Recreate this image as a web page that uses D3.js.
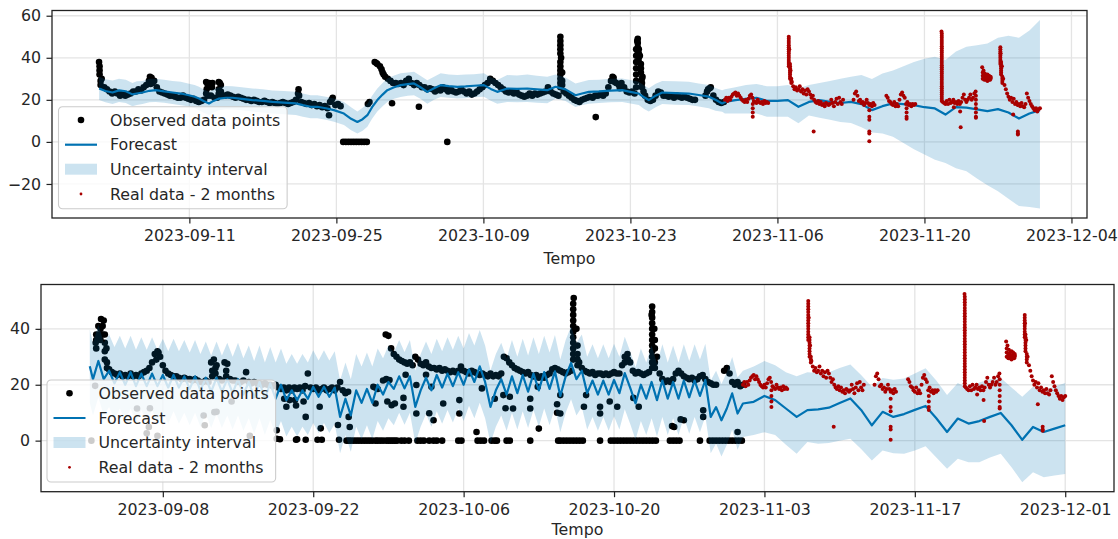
<!DOCTYPE html>
<html><head><meta charset="utf-8">
<script src="https://cdn.jsdelivr.net/npm/d3@7/dist/d3.min.js"></script>
<style>html,body{margin:0;padding:0;background:#fff;}svg{display:block;}</style>
</head><body>
<svg id="chart" width="1118" height="539"></svg>
<script>
// ================= DATA (days since 2023-09-01 00:00 UTC) =================
const topTickLabels = ["2023-09-11","2023-09-25","2023-10-09","2023-10-23","2023-11-06","2023-11-20","2023-12-04"];
const bottomTickLabels = ["2023-09-08","2023-09-22","2023-10-06","2023-10-20","2023-11-03","2023-11-17","2023-12-01"];
const topYTicks = [-20, 0, 20, 40, 60];
const bottomYTicks = [0, 20, 40];
const legendLabels = ["Observed data points", "Forecast", "Uncertainty interval", "Real data - 2 months"];
const axisTitle = "Tempo";

// top panel observed (regular sampling)
const topObsStart = 1.4, topObsStep = 0.25;
const topObsValues = [38,30,26,25,24,23,24,23,
22,23,22,22.5,23,24,24,25,
24.5,26,27,29,30.5,29,26,24,
23.5,23,22.5,22,22,21.5,21,21,
22,21,20.5,20,20.5,19.5,19,19.5,
20,25,28,26,21,21,28,22,
22,22.5,22,21.5,21,21.5,21,20.5,
20,20,19.5,20,19.5,19,19,19.5,
19,18.5,19,18.5,18,18.5,19,18.5,
18,18.5,19,20,25,19,18.5,18,
18.5,17.5,18,17,17.5,16.5,17,16,
19,21,17.5,18,17,0,0,0,
0,0,0,0,0,0,0,19,
null,38,37,36,33,31,30,29,
28,28,27.5,28,27,29,30,28,
27,28,27,26,26,25,25.5,25,
24,25,24.5,26,25,24,25,24,
23.5,24,25,24,23,24,22.5,23,
24,25,26,27,28,30,29,28,
27,26,25,24,23.5,24,23,24,
22.5,22,21.5,22,23,22,23,22.5,
23,23.5,24,26,24,23,22.5,22,
40,24,23,22,21,20,19.5,19,
20,20.5,21,21.5,21,22,22,22.5,
22,23,26,29,30.5,28,27,28,
26,24,23.5,24,23,48,41,31,
22,20,19.5,20,22,24,23.5,22,
22,21.5,22,21,22,21.5,21,21.5,
21,20.5,20,20,null,null,null,22,
25,26,22,20,19,18.5,19];
// extra observations: [day, value, value, ...]
const topObsExtra = [[1.45,36,34,32],[1.55,29,27],[6.25,31],[6.5,28],[6.3,27.5],[11.6,28.5,23],[11.75,27,22],[12.05,27.5,22],[12.2,28],[12.8,28.5,25,23],[13.0,27,24],[20.35,23],[20.45,22],[23.3,12.7],[23.55,20],[27.0,18],[27.8,37.5],[28.3,34.5],[28.5,32],[29.3,18.4],[31.86,16.7],[34.56,0],[45.33,50,48,46,44,42,38,36,34,32,30,28,26],[45.5,33,29,27],[48.7,11.8],[50.3,31],[50.5,28.5],[51.0,25.5],[52.55,26,29,32,35,38,41,44],[52.7,49,47,45,43],[52.8,44,42,40,38],[53.0,37,35,33],[53.1,30,28,26],[53.25,24],[59.3,24],[59.55,25.5]];

// bottom panel observed (regular sampling)
const bottomObsStart = 0.75, bottomObsStep = 0.25;
const bottomObsValues = [35,41,43.5,43,33,25.5,24.5,24,
23.5,24,23,23.5,23,24,23,23.5,
23,24,24.5,25,26,28,31,32,
30,27,25,24,23.5,23,23,22.5,
22,22.5,22,22,21.5,22,21.5,21,
21,21.5,21,28,29,27,22,21.5,
28,27.5,22,21.5,21.5,21,21,21.5,
24.5,21,20.5,21,20.5,20.5,20,20.5,
20,20,19.5,20,19,18.5,19,18,
19,18,19,18.5,19,18,19.5,24,
19,18.5,19,18,18.5,19,18,18.5,
19,18,19,21,18,17,17.5,0,
0,0,0,0,0,0,0,0,
19,18.5,0,0,38,37.5,33,31,
30,29,28.5,28,27.5,28,27,30,
29,27.5,27,28,26.5,26,26,25.5,
26,25,25.5,25,24.5,25,24.5,25,
26.5,25,24.5,24,25,24.5,24,23.5,
24,23.5,23,24,23,23.5,23,24,
30,29.5,28,27,26,25.5,25,24.5,
24,24.5,23.5,23,23.5,22.5,23,22.5,
23.5,24,25.5,26,25.5,25,24.5,24,
24.5,25,51,40,28,26,25,24.5,
24,24.5,23.5,24,24,23.5,24,23.5,
24,24.5,24,24,27,30,31,28,
25,24,24.5,24,23.5,24,24.5,45,
40,30,24,22,21,21.5,21,22,
24,25,24,23,22.5,22,22.5,21.5,
22,23,23.5,22,21,20.5,20,20,
null,null,25,26,24,21,20,21,
19.5,20];
const bottomObsExtra = [[0.8,33,36,38],[1.0,36,38],[1.2,40,38,36],[1.4,41,38],[1.6,38,35,32,29],[1.8,28,26],[6.4,29],[6.6,31.5],[11.6,25,23],[11.9,26,24],[12.9,25,23],
[0.35,0],[0.7,19.6],[4.6,11.5],[5.5,2.6],[5.7,4.9],[5.8,11.6],[6.5,1.7],[10.8,9],[10.9,5.5],[11.8,10.2],[12.0,10.3],[13.4,14],[15.1,1.7],[17.6,3.7,0.7],[17.9,0.5],[18.3,15],[18.5,12.1],[18.8,14.5],[19.3,14.5],[19.4,12.6,0.3],[19.5,0.5],[20.1,14],[20.3,8.5,0.3],[21.4,0.3],[21.6,12.1],[21.7,4.4],[21.8,0.3],[23.3,5.6],[23.4,0.3],[24.1,0],[24.3,8.5,0],[24.4,4.9],
[26.6,19.3],[26.8,13.3,0],[27.0,0],[27.5,21.5],[27.8,22,0],[27.9,14],[28.0,0],[28.1,21.7],[28.2,0],[28.3,12.7],[28.4,0],[28.6,13.3,0],[28.8,0],
[29.2,0],[29.4,15.3,12.1],[29.5,0],[29.6,23.6],[29.9,0],[30.6,9.7,19.9],[30.7,0],[31.0,0],[31.3,0],[31.5,23.6],[31.8,9.8,0],[32.0,19.3],[32.2,7.3,0],[32.5,0],[33.0,0],[33.1,13.3],[34.5,0],[34.6,14.5,9.7],[34.8,0],[36.2,3.1],[36.3,0],[36.6,0],[36.7,18.7],[36.9,0],[37.6,0],[37.9,15,0],[38.1,0],[38.7,16.3],[38.9,11.6],[39.0,0],[39.3,15.7,0],[39.6,11.5],[41.2,15,11.5,0],[41.9,19.3],[42.0,4.3],[43.7,13,10],[43.8,0],
[44.0,16.3,9.7,0],[44.3,0],[44.6,0],[44.9,0],[45.2,49,47,45,43,41,39,37,35,33,31,29,0],[45.5,0],[45.6,34,31,29,27],[45.8,0],[46.1,0],[46.2,12.1],[46.4,16.3],[47.7,12.1,9.7,0],[48.6,14],[48.7,0],[49.0,0],[49.3,12.1,0],[49.6,0],[49.9,0],[50.0,28],[50.2,0],[50.3,29],[50.5,0],[50.8,15.3,0],[51.1,0],[51.3,12.1],[51.4,0],[51.7,0],[52.0,0],[52.3,0],[52.55,48,46,44,42,40,38,36,34,32,30,28,26],[52.6,0],[52.8,36,33,28,26],[52.9,0],
[54.2,0],[54.4,5.2],[54.5,0],[54.6,4.9],[54.8,0],[55.1,0],[55.2,7.6],[55.5,7.3],[57.0,0],[57.3,10.9,8.5],[57.9,0],[58.2,0],[58.5,0],[58.8,0],[59.1,0],[59.4,0],[59.7,0],[60.0,0],[60.3,0],[60.5,3.1],[60.6,0],[60.9,0]];

// real data (shared by both panels)
const realStart = 61, realStep = 0.125;
const realValues = [20,21,19.5,21,20,21.5,22.5,23,
23.5,22,23,22,21,20,19.5,19,
20,19,20.5,22,22.5,21,19.5,19,
18.5,20,19,18.5,19,18,19.5,18.5,
19,18.5,null,null,null,null,null,null,
null,null,null,null,null,null,null,null,
null,44,34,28.5,26.5,25,26,24.5,
25,26.5,24,25,23,24.5,22.5,25,
24,22.5,21,22,20,19,18.5,19.5,
18,19,17.5,18,17,18.5,18,17.5,
18,20,18.5,17,19,20.5,18,21,
19,18,20,null,null,null,null,null,
null,null,20,23,24,22,19.5,20,
18.5,19,17.5,18.5,20,18.5,17.5,18,
17,18.5,17.5,null,null,null,null,null,
null,null,null,22,21,19.5,19,18,
17.5,19,17,18,17,20,22.5,23.5,
22,21,18,19,17.5,18,17,18,
17.5,18,null,null,null,null,null,null,
null,null,null,null,null,null,null,null,
null,null,null,null,null,52.5,19,18.5,
18,19.5,18,20,18.5,19,20,18.5,
19,18,19.5,18,19,21,22.5,20,
19,20,21,22.5,20,21,23,24,
null,null,null,null,35.5,34,32.5,31.5,
30.5,30,29.5,null,null,null,null,null,
null,null,42,36,30,27,25,23,
21.5,20,21,19,20.5,18,19,17.5,
18,17,18.5,17,16.5,18,23,21,
19.5,18,17,16,15,16,14.5,15.5,
16];
const realExtra = [[63.65,18,16,14,12],[67.08,50,49,48,47,46,45,44,43,42,41,40,39,38,37,36],[67.2,37,36,35,34,33,32,31,30],[67.32,30,29,28],[69.45,5],[74.75,15,12,10.5,5,4,0.3],[78.3,16,14,12,11],[81.65,51.5,50.5,49.5,48.5,47.5,46.5,45.5,44.5,43.5,42.5,41.5,40.5,39.5,38.5,37.5,36.5,35.5,34.5,33.5,32.5,31.5,30.5,29.5,28.5,27.5,26.5,25.5,24.5,23.5,22.5,21.5,20.5,19.5],[82.8,16.5],[83.4,14.5],[83.45,7],[84.9,22,20,18,16,14,12,11.5],[85.55,33,31.5,30],[85.7,31,30,29.5],[85.85,30,29.5],[86.0,32,29],[86.15,31.5,29.5],[86.3,31,30.5,30],[87.23,45,44,43,42,41,40,39,38,37],[87.3,38,37,36,35,34,33,32],[87.42,31,30,29,28],[88.45,13],[88.9,5,4,3.5]];

// forecasts: [day, yhat, lower, upper]
const topForecast = [[1.41,25.4,19.9,31.0],[2.0,24.2,18.8,29.8],[2.68,23.5,18.0,29.2],[3.3,24.5,19.0,30.0],[3.95,24.1,18.5,29.5],[4.58,22.6,17.0,28.0],[5.0,23.0,17.6,28.8],[5.54,23.5,18.0,29.0],[6.2,24.3,18.8,30.0],[6.8,24.6,19.0,30.0],[7.6,24.0,18.6,29.5],[8.39,23.5,18.0,29.0],[9.2,23.0,17.4,28.6],[9.97,22.2,16.8,27.6],[10.5,21.5,16.0,27.0],[10.92,20.6,15.0,26.2],[11.4,19.3,13.8,24.8],[11.87,18.3,12.8,23.8],[12.3,19.5,14.0,25.0],[12.83,20.6,15.0,26.0],[13.5,21.0,15.5,26.6],[14.1,21.0,15.4,26.5],[15.0,20.5,15.0,26.0],[16.0,19.9,14.4,25.4],[17.0,19.5,14.0,25.0],[17.91,19.0,13.5,24.5],[19.0,18.7,13.2,24.2],[20.13,18.3,12.8,23.8],[20.8,17.5,12.0,23.0],[21.55,16.7,11.2,22.2],[22.19,16.7,11.2,22.2],[23.0,16.0,10.5,21.5],[23.77,15.1,9.6,20.6],[24.72,13.5,8.0,19.0],[25.4,11.0,5.5,16.5],[26.0,9.5,4.0,14.5],[26.5,10.8,5.3,16.2],[26.95,12.7,7.2,18.2],[27.4,16.5,11.0,22.0],[27.9,19.9,14.4,25.4],[28.4,22.5,17.0,28.0],[28.85,24.6,19.0,30.2],[29.5,26.0,20.5,31.6],[30.12,27.0,21.4,32.6],[30.8,27.5,22.0,33.0],[31.39,27.8,22.2,33.4],[32.0,26.0,20.5,31.5],[32.66,23.8,18.2,29.3],[33.3,25.5,20.0,31.0],[33.93,27.0,21.4,32.6],[34.7,26.5,21.0,32.0],[35.52,26.2,20.6,31.8],[36.3,26.4,20.8,32.0],[37.1,26.7,21.2,32.2],[38.05,27.0,21.5,32.6],[38.7,25.2,19.6,30.8],[39.32,23.8,18.2,29.4],[40.27,25.4,19.0,31.8],[41.2,25.2,18.8,31.6],[42.18,25.4,19.0,32.0],[43.1,25.0,18.6,31.5],[44.08,24.6,18.4,31.0],[44.87,26.2,20.5,32.0],[45.82,25.0,19.4,30.6],[46.77,22.2,16.6,27.8],[47.4,23.0,17.5,28.6],[48.04,23.8,18.2,29.4],[49.0,24.0,18.5,29.6],[50.1,24.4,18.9,30.0],[51.22,24.6,19.0,30.2],[52.0,23.8,18.3,29.4],[52.8,23.0,17.5,28.6],[53.3,21.2,15.6,26.8],[53.75,19.9,14.4,25.5],[54.4,22.0,16.5,27.6],[55.03,23.5,18.0,29.0],[56.3,23.2,17.7,28.8],[57.56,23.0,17.5,28.6],[58.5,22.3,16.8,27.8],[59.46,21.5,16.0,27.0],[60.1,20.0,14.8,25.6],[60.74,18.3,14.3,24.6],
[61,19,13.5,25],[62,19.9,13.5,26],[63,20.5,13.5,27],[64,21,13.5,27.5],[65,19.5,12,26.5],[66,19.5,12,26.5],[67,19.9,12,27],[68,16.7,8.9,25.5],[69,19,12.5,27],[70,19.9,11.5,28],[71,19,10.5,29],[72,18.5,9.5,30],[73,19,9,31],[74,18,7,31.8],[75,15.1,4.5,29.9],[76,17,4,32.5],[77,18.3,2.5,34],[78,18,-0.5,36],[79,17.5,-3.5,38],[80,16.5,-6,39.5],[81,15.9,-8.5,40.5],[82,13,-10,39],[83,16.5,-12.5,43],[84,16.3,-14,45.2],[85,15.5,-17.4,46],[86,14.6,-20.6,46.8],[87,15.6,-23.5,49.5],[88,14,-27,50.5],[89,11.1,-30.5,49.5],[90,13.5,-31,53],[91,15.1,-31.7,58]];

const bottomForecast = [[0.2,26.6,13.6,39.8],[0.5,22,9,35],[1,28.5,15.5,41.5],[1.5,22,9,35],[2,25,12,38],[2.5,20.5,7.5,33.5],[3,24.5,11.5,37.5],[3.5,20,7,33],[4,24.5,11.5,37.5],[4.5,19.5,6.5,32.5],[5,24,11,37],[5.5,19.5,6.5,32.5],[6,24,11,37],[6.5,19.5,6.5,32.5],[7,23.5,10.5,36.5],[7.5,19,6,32],[8,23.5,10.5,36.5],[8.5,19,6,32],[9,23,10,36],[9.5,18.5,5.5,31.5],[10,23,10,36],[10.5,18,5,31],[11,22.5,9.5,35.5],[11.5,17.5,4.5,30.5],[12,22.5,9.5,35.5],[12.5,17.5,4.5,30.5],[13,22,9,35],[13.5,17,4,30],[14,22,9,35],[14.5,16.5,3.5,29.5],[15,21,8,34],[15.5,15.5,2.5,28.5],[16,21,8,34],[16.5,15,2,28],[17,20.5,7.5,33.5],[17.5,15,2,28],[18,20,7,33],[18.5,14.5,1.5,27.5],[19,18,5,31],[19.5,14.5,1.5,27.5],[20,18,5,31],[20.5,15,2,28],[21,19.3,6.3,32.3],[21.5,15.7,2.7,28.7],[22,19.3,6.3,32.3],[22.5,15.7,2.7,28.7],[23,19,6,32],[23.5,8.5,-4.5,21.5],[24,15,2,28],[24.5,9,-4,22],[25,18,5,31],[25.5,13.5,0.5,26.5],[26,18.5,5.5,31.5],[26.5,13.5,0.5,26.5],[27,20,7,33],[27.5,16.5,3.5,29.5],[28,21,8,34],[28.5,18.5,5.5,31.5],[29,23,10,36],[29.5,18.7,5.7,31.7],[30,23,10,36],[30.5,12.1,-0.9,25.1],[31,18,5,31],[31.5,22.5,9.5,35.5],[32,18,5,31],[32.5,23.5,10.5,36.5],[33,19,6,32],[33.5,24,11,37],[34,19.5,6.5,32.5],[34.5,24.5,11.5,37.5],[35,20,7,33],[35.5,25.5,12.5,38.5],[36,21,8,34],[36.5,26.6,13.6,39.6],[37,21,8,34],[37.5,12.1,-0.9,25.1],[38,18,5,31],[38.5,22,9,35],[39,16.5,3.5,29.5],[39.5,23,10,36],[40,17,4,30],[40.5,23.5,10.5,36.5],[41,17.5,4.5,30.5],[41.5,24,11,37],[42,18,5,31],[42.5,24.5,11.5,37.5],[43,18.5,5.5,31.5],[43.5,24.8,11.8,37.8],[44,16,3,29],[44.5,23,10,36],[45,27.8,14.8,40.8],[45.5,22,9,35],[46,25,12,38],[46.5,17,4,30],[47,21.5,8.5,34.5],[47.5,16.5,3.5,29.5],[48,21.5,8.5,34.5],[48.5,16.5,3.5,29.5],[49,21.7,8.7,34.7],[49.5,17,4,30],[50,24.2,11.2,37.2],[50.5,19,6,32],[51,13.3,0.3,26.3],[51.5,20,7,33],[52,15,2,28],[52.5,21,8,34],[53,14.5,1.5,27.5],[53.5,21.5,8.5,34.5],[54,15,2,28],[54.5,21,8,34],[55,15,2,28],[55.5,21.5,8.5,34.5],[56,15.5,2.5,28.5],[56.5,21.5,8.5,34.5],[57,16,3,29],[57.5,21.7,8.7,34.7],[58,8.5,-4.5,21.5],[58.5,12,-1,25],[59,7.3,-5.7,20.3],[59.5,11.5,-1.5,24.5],[60,16.9,3.9,29.9],[60.5,9.7,-3.3,22.7],
[61,13.3,1.3,25],[62,13.9,2,26.5],[63,16,3,28.5],[64,14.5,2,27],[65,11.5,-1.5,24.5],[66,8.5,-4.7,23],[67,10.9,-0.5,24.5],[68,11.2,-1.1,24.2],[69,11.8,-0.8,24.5],[70,13.5,0,26],[71,15.1,0.7,27.2],[72,11,-3,23.5],[73,5.5,-7.1,19.3],[74,10.3,-3.5,22.4],[75,8.5,-4.5,21.8],[76,9.5,-4.7,22.2],[77,11,-3.5,24],[78,12.4,-2,25.9],[79,8,-6,21.5],[80,3.1,-10.1,16.3],[81,7.9,-6.5,20.6],[82,6.1,-7.7,18.7],[83,7,-7.7,20.8],[84,8.5,-6,22],[85,9.9,-4.7,22.4],[86,5.5,-9.5,19],[87,0.3,-14.9,15.7],[88,4.9,-11.3,19.3],[89,3.1,-13.1,18.1],[90,4.3,-12.5,19.4],[91,5.5,-11.9,20.6]];

// ================= RENDERING =================
const DAY = 864e5, T0 = Date.UTC(2023, 8, 1);
const toDate = d => new Date(T0 + d * DAY);
function runPoints(start, step, values) {
  const out = [];
  values.forEach((v, i) => { if (v !== null) out.push([start + i * step, v]); });
  return out;
}
function extraPoints(rows) {
  const out = [];
  rows.forEach(r => { for (let k = 1; k < r.length; k++) out.push([r[0], r[k]]); });
  return out;
}
const realPts = runPoints(realStart, realStep, realValues).concat(extraPoints(realExtra));

const panels = [
  { obs: runPoints(topObsStart, topObsStep, topObsValues).concat(extraPoints(topObsExtra)),
    fc: topForecast, xt: topTickLabels, yt: topYTicks },
  { obs: runPoints(bottomObsStart, bottomObsStep, bottomObsValues).concat(extraPoints(bottomObsExtra)),
    fc: bottomForecast, xt: bottomTickLabels, yt: bottomYTicks }
];
const layouts = [
  { x0: 52, x1: 1087, y0: 10.5, y1: 218, lx: 58.5, ly: 106.7, titleY: 263.5 },
  { x0: 41, x1: 1114, y0: 284.5, y1: 491.7, lx: 47, ly: 380, titleY: 534.5 }
];

const FONT = "'DejaVu Sans', Verdana, sans-serif";
const FS = 15.8;
const TXT = "#262626";
const BLUE = "#0072B2";
const RED = "#a80000";
const parse = d3.utcParse("%Y-%m-%d");
const fmtY = v => v < 0 ? "\u2212" + Math.abs(v) : String(v);
const svg = d3.select("#chart");

panels.forEach((p, idx) => {
  const L = layouts[idx];
  const xs = p.obs.map(d => d[0]).concat(p.fc.map(d => d[0]), realPts.map(d => d[0]));
  const ys = p.obs.map(d => d[1]).concat(p.fc.flatMap(d => [d[1], d[2], d[3]]), realPts.map(d => d[1]));
  const [xmin, xmax] = d3.extent(xs), [ymin, ymax] = d3.extent(ys);
  const padX = (xmax - xmin) * 0.05, padY = (ymax - ymin) * 0.05;
  const x = d3.scaleUtc().domain([toDate(xmin - padX), toDate(xmax + padX)]).range([L.x0, L.x1]);
  const y = d3.scaleLinear().domain([ymin - padY, ymax + padY]).range([L.y1, L.y0]);
  const X = d => x(toDate(d[0]));

  const g = svg.append("g");
  const clipId = "clip" + idx;
  svg.append("clipPath").attr("id", clipId).append("rect")
    .attr("x", L.x0).attr("y", L.y0).attr("width", L.x1 - L.x0).attr("height", L.y1 - L.y0);

  const xTickDates = p.xt.map(parse);
  // grid
  g.append("g").selectAll("line").data(xTickDates).join("line")
    .attr("x1", d => x(d)).attr("x2", d => x(d)).attr("y1", L.y0).attr("y2", L.y1)
    .attr("stroke", "#e4e4e4").attr("stroke-width", 1.3);
  g.append("g").selectAll("line").data(p.yt).join("line")
    .attr("x1", L.x0).attr("x2", L.x1).attr("y1", d => y(d)).attr("y2", d => y(d))
    .attr("stroke", "#e4e4e4").attr("stroke-width", 1.3);

  const plot = g.append("g").attr("clip-path", `url(#${clipId})`);
  // observed
  plot.append("g").selectAll("circle").data(p.obs).join("circle")
    .attr("cx", X).attr("cy", d => y(d[1])).attr("r", 3.3).attr("fill", "#000");
  // forecast line
  plot.append("path").datum(p.fc)
    .attr("d", d3.line().x(X).y(d => y(d[1])))
    .attr("fill", "none").attr("stroke", BLUE).attr("stroke-width", 2.2).attr("stroke-linejoin", "round");
  // uncertainty band
  plot.append("path").datum(p.fc)
    .attr("d", d3.area().x(X).y0(d => y(d[2])).y1(d => y(d[3])))
    .attr("fill", BLUE).attr("fill-opacity", 0.2);
  // real data
  plot.append("g").selectAll("circle").data(realPts).join("circle")
    .attr("cx", X).attr("cy", d => y(d[1])).attr("r", 2).attr("fill", RED);

  // frame
  g.append("rect").attr("x", L.x0).attr("y", L.y0).attr("width", L.x1 - L.x0).attr("height", L.y1 - L.y0)
    .attr("fill", "none").attr("stroke", "#222").attr("stroke-width", 1.3);

  // axes
  const ax = g.append("g").attr("transform", `translate(0,${L.y1})`)
    .call(d3.axisBottom(x).tickValues(xTickDates).tickFormat(d3.utcFormat("%Y-%m-%d")).tickSize(5.5).tickPadding(6.5));
  const ay = g.append("g").attr("transform", `translate(${L.x0},0)`)
    .call(d3.axisLeft(y).tickValues(p.yt).tickFormat(fmtY).tickSize(5.5).tickPadding(5.5));
  [ax, ay].forEach(a => {
    a.select(".domain").remove();
    a.attr("font-family", FONT).attr("font-size", FS);
    a.selectAll("line").attr("stroke", "#222").attr("stroke-width", 1.2);
    a.selectAll("text").attr("fill", TXT);
  });

  // axis title
  g.append("text").attr("x", (L.x0 + L.x1) / 2).attr("y", L.titleY).attr("text-anchor", "middle")
    .attr("font-family", FONT).attr("font-size", FS).attr("fill", TXT).text(axisTitle);

  // legend
  const lg = g.append("g").attr("transform", `translate(${L.lx},${L.ly})`);
  const box = lg.append("rect");
  const rows = [13.3, 38, 62.5, 87.3];
  const texts = lg.selectAll("text").data(legendLabels).join("text")
    .attr("x", 51.5).attr("y", (d, i) => rows[i]).attr("dy", "0.36em")
    .attr("font-family", FONT).attr("font-size", FS).attr("fill", TXT).text(d => d);
  lg.append("circle").attr("cx", 22.5).attr("cy", rows[0]).attr("r", 3.3).attr("fill", "#000");
  lg.append("line").attr("x1", 6.5).attr("x2", 38.5).attr("y1", rows[1]).attr("y2", rows[1])
    .attr("stroke", BLUE).attr("stroke-width", 2.2);
  lg.append("rect").attr("x", 6.5).attr("y", rows[2] - 5.5).attr("width", 32).attr("height", 11)
    .attr("fill", BLUE).attr("fill-opacity", 0.2);
  lg.append("circle").attr("cx", 22.5).attr("cy", rows[3]).attr("r", 1.4).attr("fill", RED);
  let maxW = 0;
  texts.each(function () { maxW = Math.max(maxW, this.getComputedTextLength()); });
  box.attr("x", 0).attr("y", 0).attr("width", 51.5 + maxW + 7).attr("height", 102)
    .attr("rx", 4).attr("fill", "#fff").attr("fill-opacity", 0.8)
    .attr("stroke", "#cccccc").attr("stroke-width", 1.1);
});
</script>
</body></html>
